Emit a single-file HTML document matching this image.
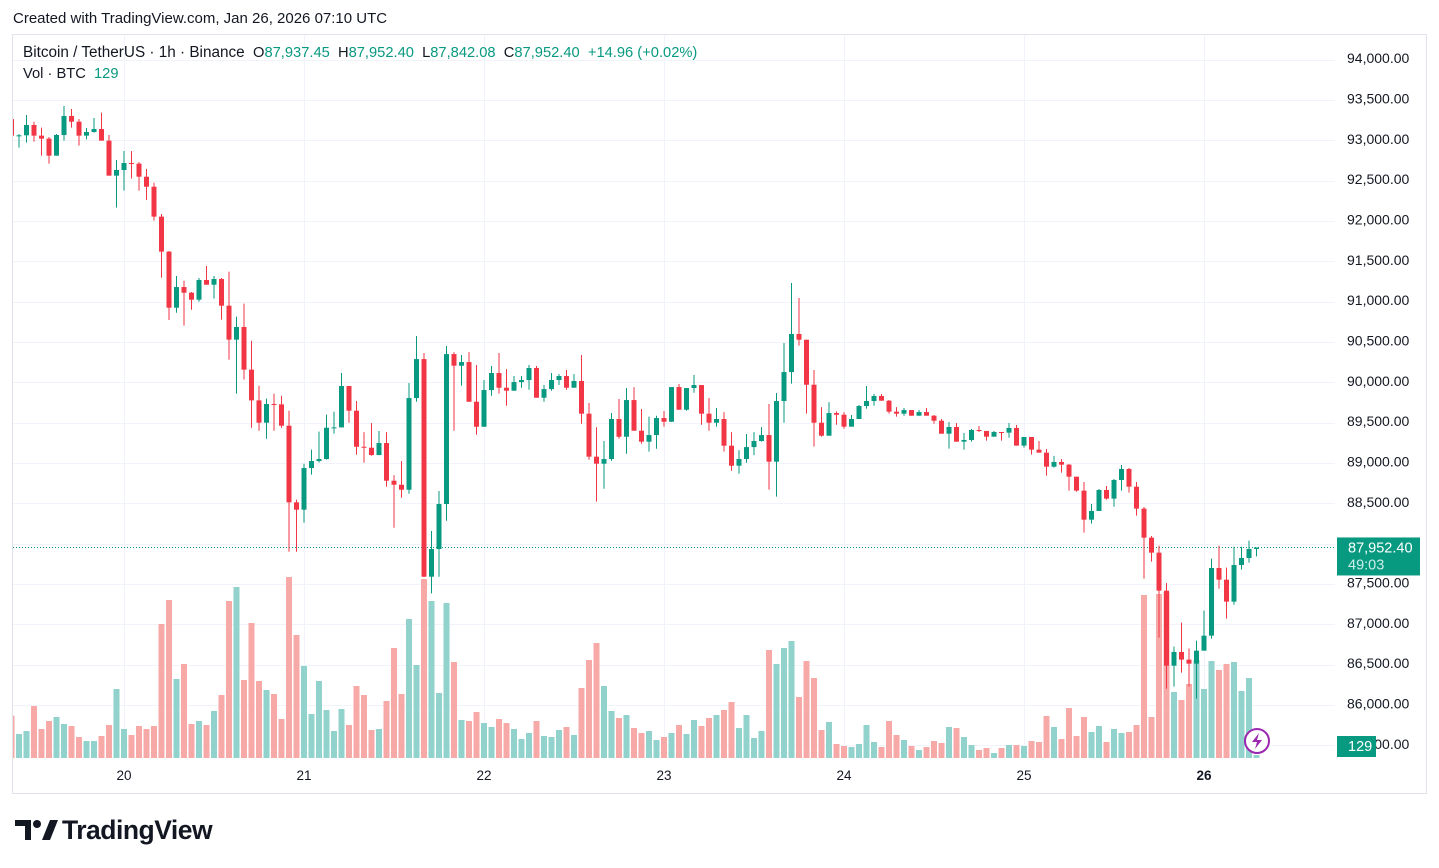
<!DOCTYPE html>
<html><head><meta charset="utf-8"><style>
html,body{margin:0;padding:0;background:#fff;}
body{width:1439px;height:868px;position:relative;overflow:hidden;font-family:"Liberation Sans",sans-serif;color:#131722;}
.t{position:absolute;white-space:nowrap;font-size:14.7px;line-height:16px;}
.g{color:#089981;}
</style></head><body>
<div class="t" style="left:13px;top:11px;font-size:15px;">Created with TradingView.com, Jan 26, 2026 07:10 UTC</div>
<div style="position:absolute;left:12px;top:34px;width:1413px;height:758px;border:1px solid #e0e3eb;"></div>
<svg id="chart" width="1439" height="868" style="position:absolute;left:0;top:0;"></svg>
<div class="t" style="left:23px;top:45px;font-size:15.3px;">Bitcoin / TetherUS · 1h · Binance</div>
<div class="t" style="left:253px;top:45px;">O<span class="g">87,937.45</span>&nbsp; H<span class="g">87,952.40</span>&nbsp; L<span class="g">87,842.08</span>&nbsp; C<span class="g">87,952.40</span>&nbsp; <span class="g">+14.96 (+0.02%)</span></div>
<div class="t" style="left:23px;top:66px;">Vol · BTC&nbsp; <span class="g">129</span></div>
<div style="position:absolute;left:15px;top:818px;height:26px;">
<svg width="44" height="26" style="position:absolute;left:0;top:0"><path d="M0 2h16v20h-6V8H0z" fill="#131722"/><circle cx="22" cy="6" r="4" fill="#131722"/><path d="M27 22l8-20h8l-8 20z" fill="#131722"/></svg>
<span style="position:absolute;left:47px;top:-3px;font-size:26.5px;font-weight:bold;letter-spacing:-0.5px;">TradingView</span></div>
<script>
const firstOpen = 93264;
const closes = [93058,
93062,93190,93058,93021,92810,93066,93302,93231,93058,93103,
93140,92996,92562,92632,92719,92711,92549,92425,92054,91620,
90925,91181,91111,91024,91268,91210,91281,90950,90529,90686,
90157,89776,89499,89731,89727,89462,88512,88421,88937,89024,
89049,89437,89441,89954,89648,89201,89189,89098,89247,88780,
88730,88668,89805,90288,87590,87933,88491,90350,90206,90251,
89759,89449,89904,90115,89933,89896,90003,90028,90177,89809,
89916,90028,90078,89933,90016,89611,89078,88991,89049,89545,
89325,89780,89400,89264,89346,89557,89511,89941,89660,89929,
89966,89611,89499,89545,89214,88966,89049,89197,89272,89346,
89016,89768,90127,90599,90528,89970,89499,89338,89619,89598,
89450,89545,89706,89768,89830,89772,89636,89611,89656,89586,
89631,89586,89524,89363,89446,89264,89285,89409,89397,89326,
89384,89376,89434,89215,89322,89165,89128,88954,89012,88979,
88830,88657,88297,88405,88665,88558,88789,88926,88706,88434,
88074,87888,87417,86487,86657,86562,86512,86673,86859,87698,
87553,87281,87735,87822,87934,87952.4];
const highs = [93264,
93078,93314,93231,93157,93041,93078,93426,93388,93264,93153,
93277,93343,93066,92756,92868,92868,92731,92644,92475,92087,
91628,91318,91260,91119,91293,91442,91318,91293,91372,90814,
90975,90516,89958,89797,89859,89834,89648,88545,88991,89165,
89388,89599,89635,90115,89954,89768,89383,89495,89396,89383,
88850,89024,89991,90574,90363,88156,88652,90450,90375,90338,
90375,90214,90028,90202,90363,90164,90078,90078,90214,90202,
89966,90115,90102,90152,90102,90338,89743,89445,89272,89619,
89793,89929,89941,89669,89574,89586,89644,89941,89979,89929,
90090,89966,89805,89681,89631,89383,89160,89359,89383,89445,
89731,89867,90487,91231,91045,90528,90152,89693,89755,89640,
89631,89594,89718,89954,89855,89855,89780,89693,89681,89656,
89656,89681,89594,89545,89508,89496,89372,89421,89459,89397,
89397,89384,89496,89471,89322,89322,89273,89173,89087,89049,
88988,88830,88764,88492,88678,88715,88801,88975,88938,88764,
88454,88095,87975,87512,86723,87020,86698,86797,87169,87814,
87975,87702,87962,87962,88037,87952.4];
const lows = [93050,
92909,92971,92983,92810,92711,92810,92996,93157,92934,93012,
93095,92996,92562,92165,92376,92525,92376,92260,92004,91297,
90772,90863,90702,90900,90999,91210,91037,90777,90281,89859,
90033,89437,89400,89301,89400,89437,87900,87900,88260,88855,
89004,89041,89363,89441,89499,89102,89003,89090,89098,88706,
88197,88569,88619,89759,87585,87383,87590,88284,89400,89958,
89759,89350,89449,89834,89859,89710,89896,89933,89908,89809,
89759,89896,89966,89908,89933,89487,89040,88520,88681,89028,
89301,89115,89400,89239,89140,89177,89450,89511,89660,89648,
89871,89474,89400,89450,89140,88904,88867,89003,89098,89264,
88668,88582,89499,89983,90454,89611,89202,89326,89338,89474,
89425,89450,89545,89673,89710,89772,89611,89574,89586,89586,
89586,89586,89487,89363,89178,89264,89165,89264,89384,89277,
89326,89277,89314,89215,89190,89103,89128,88843,88942,88880,
88657,88644,88136,88248,88405,88545,88458,88657,88632,88347,
87566,87777,86834,86202,86227,86400,86227,86078,86859,86822,
87442,87070,87243,87677,87764,87842];
const volumes = [127,
72,81,156,87,111,123,102,96,63,51,
51,66,99,207,87,69,96,87,96,402,
474,237,282,102,111,99,141,189,471,513,
234,405,231,204,192,117,543,369,276,132,
231,144,81,147,99,216,189,84,87,171,
330,192,417,279,537,471,195,465,288,114,
111,138,105,93,117,105,87,57,75,111,
66,63,84,93,69,210,294,345,216,141,
120,129,90,75,81,54,63,75,99,72,
114,96,120,129,144,168,90,129,60,81,
324,282,330,351,183,291,240,84,108,42,
36,33,42,99,48,33,111,69,54,36,
24,33,51,45,93,90,63,39,24,30,
15,30,39,39,36,51,48,126,93,57,
150,66,123,78,96,48,87,75,78,99,
489,123,492,498,198,174,222,294,207,291,
264,282,288,201,240,9];
const priceTicks = [94000,93500,93000,92500,92000,91500,91000,90500,90000,89500,89000,88500,88000,87500,87000,86500,86000,85500];
const dayLabels = ["20","21","22","23","24","25","26"];
const lastPrice = 87952.4;

const NS = "http://www.w3.org/2000/svg";
const svg = document.getElementById('chart');
const PL = 13, PR = 1335, PT = 35, PB = 757;
function yP(p){ return 100 + (93500 - p) / 500 * 40.33; }
function xI(k){ return 11.5 + 7.5 * k; }
function yV(v){ return 758 - v / 3; }
function xDay(d){ return 124 + d * 180; }
function mk(tag, attrs){ const e = document.createElementNS(NS, tag); for (const k in attrs) e.setAttribute(k, attrs[k]); svg.appendChild(e); return e; }

const defs = document.createElementNS(NS,'defs');
defs.innerHTML = '<clipPath id="pc"><rect x="'+PL+'" y="'+PT+'" width="'+(PR-PL)+'" height="'+(PB-PT+1)+'"/></clipPath>';
svg.appendChild(defs);

priceTicks.forEach(p => {
  const y = Math.round(yP(p)) + 0.5;
  if (y > PT && y < PB) {
    const l = mk('line', {x1:PL, x2:PR, y1:y, y2:y, stroke:'#f0f3fa', 'stroke-width':1});
    
    
  }
});
dayLabels.forEach((d, i) => {
  const x = xDay(i) + 0.5;
  const l = mk('line', {x1:x, x2:x, y1:PT, y2:PB, stroke:'#f0f3fa', 'stroke-width':1});
  
  
  const t = mk('text', {x:xDay(i), y:780, 'text-anchor':'middle', 'font-size':13.5, fill:'#131722', 'font-family':'Liberation Sans, sans-serif', 'font-weight': i === dayLabels.length - 1 ? 'bold' : 'normal'});
  t.textContent = d;
  
  
});

const g = mk('g', {'clip-path':'url(#pc)'});


function gk(tag, attrs){ const e = document.createElementNS(NS, tag); for (const k in attrs) e.setAttribute(k, attrs[k]); g.appendChild(e); return e; }

volumes.forEach((v, k) => {
  const o = k === 0 ? firstOpen : closes[k-1];
  const up = closes[k] >= o;
  const r = gk('rect', {x:xI(k)-3, y:yV(v), width:6, height:758-yV(v), fill: up ? '#92d2cc' : '#f7a9a7'});
  
  
});

const ly = Math.round(yP(lastPrice)) + 0.5;
const pl = gk('line', {x1:PL, x2:PR, y1:ly, y2:ly, stroke:'#089981', 'stroke-width':1, 'stroke-dasharray':'1,2'});



closes.forEach((c, k) => {
  const o = k === 0 ? firstOpen : closes[k-1];
  const up = c >= o;
  const col = up ? '#089981' : '#f23645';
  const x = xI(k);
  const hi = Math.max(highs[k], o, c), lo = Math.min(lows[k], o, c);
  const w = gk('line', {x1:x, x2:x, y1:yP(hi), y2:yP(lo), stroke:col, 'stroke-width':1});
  
  
  const top = yP(Math.max(o, c)), bot = yP(Math.min(o, c));
  const b = gk('rect', {x:x-2.5, y:top, width:5, height:Math.max(1, bot-top), fill:col});
  
  
});

priceTicks.forEach(p => {
  if (Math.abs(yP(p) - yP(lastPrice)) < 22) return;
  const t = mk('text', {x:1347, y:yP(p)+3.5, 'font-size':14, fill:'#131722', 'font-family':'Liberation Sans, sans-serif'});
  t.textContent = p.toLocaleString('en-US', {minimumFractionDigits:2});
  
  
});

const tag = mk('rect', {x:1337, y:yP(lastPrice)-10, width:83, height:38, fill:'#089981'});


const t1 = mk('text', {x:1348, y:yP(lastPrice)+5, 'font-size':14.5, fill:'#fff', 'font-family':'Liberation Sans, sans-serif'});
t1.textContent = lastPrice.toLocaleString('en-US', {minimumFractionDigits:2});


const t2 = mk('text', {x:1348, y:yP(lastPrice)+22, 'font-size':14.5, fill:'#cdeee8', 'font-family':'Liberation Sans, sans-serif'});
t2.textContent = '49:03';



const vt = mk('rect', {x:1337, y:736, width:39, height:21, fill:'#089981'});


const vtt = mk('text', {x:1348, y:751, 'font-size':14.5, fill:'#fff', 'font-family':'Liberation Sans, sans-serif'});
vtt.textContent = '129';



const lc = mk('circle', {cx:1257, cy:741, r:12, fill:'#fff', stroke:'#9c27b0', 'stroke-width':2});


const lp = mk('path', {d:'M1259 733 L1252 742 L1257 742 L1255 749 L1262 740 L1257 740 Z', fill:'#9c27b0'});


</script>
</body></html>
